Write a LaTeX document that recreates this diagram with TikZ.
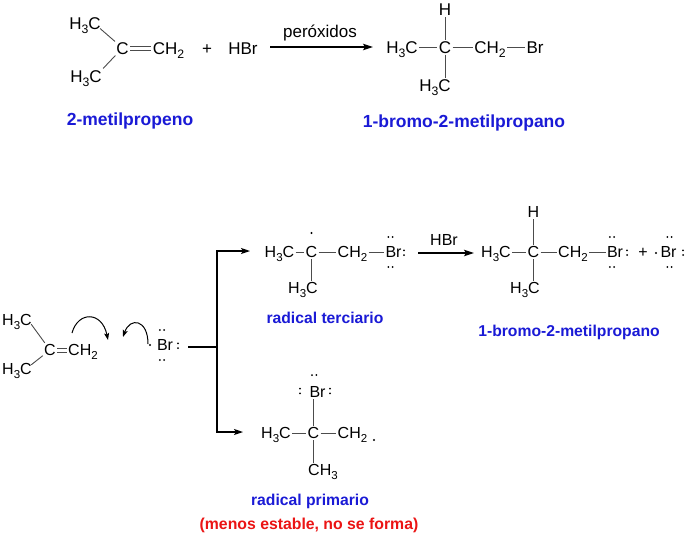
\documentclass[tikz,border=0pt]{standalone}
\usepackage{fontspec}
\setmainfont{Liberation Sans}
\usetikzlibrary{arrows.meta,calc}
\definecolor{lblue}{RGB}{26,26,214}
\definecolor{lred}{RGB}{235,20,20}
\newcommand\sbs[1]{\raisebox{-0.25em}{\scalebox{0.72}{#1}}}
\newcommand\lpH[3]{\fill ($(#1.center)+(#2-2.2,#3)$) circle (1pt) ($(#1.center)+(#2+2.2,#3)$) circle (1pt);}
\newcommand\lpV[3]{\fill ($(#1.center)+(#2,#3-2.3)$) circle (1pt) ($(#1.center)+(#2,#3+2.3)$) circle (1pt);}
\begin{document}
\begin{tikzpicture}[x=1pt,y=-1pt,
  atomT/.style={inner sep=1.2pt, text height=12.2pt, text depth=0pt, font=\fontsize{17}{20}\selectfont},
  atomB/.style={inner sep=1.2pt, text height=11.5pt, text depth=0pt, font=\fontsize{16}{19}\selectfont},
  bond/.style={draw=black!70, line width=0.9pt},
  rxn/.style={line width=1.2pt, -{Stealth[length=10pt,width=6.5pt,inset=2pt]}},
  lline/.style={line width=1.2pt},
  larr/.style={-{Stealth[length=9pt,width=6pt,inset=2pt]}},
  cur/.style={line width=1pt, -{Stealth[length=7pt,width=5pt,inset=1.5pt]}},
  lblT/.style={font=\fontsize{17.5}{20}\selectfont\bfseries, text=lblue},
  lblB/.style={font=\fontsize{15.7}{19}\selectfont\bfseries, text=lblue},
  lblR/.style={font=\fontsize{15.8}{19}\selectfont\bfseries, text=lred}]
\fill[white] (0,0) rectangle (688,539);
\useasboundingbox (0,0) rectangle (688,539);
% ---------- top reaction ----------
\node[atomT] (h1) at (85,23) {H\sbs{3}C};
\node[atomT] (h2) at (86,76) {H\sbs{3}C};
\node[atomT] (c1) at (122.5,48) {C};
\node[atomT] (ch1) at (168.5,48) {CH\sbs{2}};
\draw[bond] ([xshift=-2pt,yshift=2pt]h1.south east) -- (c1);
\draw[bond] (h2.north east) -- (c1);
\draw[bond] ([yshift=2pt]c1.east) -- ([yshift=2pt]ch1.west);
\draw[bond] ([yshift=-2pt]c1.east) -- ([yshift=-2pt]ch1.west);
\node[atomT] (plus1) at (207,48) {+};
\node[atomT] (hbr1) at (243,48) {HBr};
\coordinate (ar1s) at (270,47);
\coordinate (ar1e) at (373,47);
\draw[rxn] (ar1s) -- (ar1e);
\node[atomT] (perox) at (320,31) {peróxidos};
\node[atomT] (pH) at (445,9) {H};
\node[atomT] (pa) at (402,47) {H\sbs{3}C};
\node[atomT] (pc) at (445,47) {C};
\node[atomT] (pb) at (490,47) {CH\sbs{2}};
\node[atomT] (pbr) at (535,47) {Br};
\node[atomT] (pd) at (435,85) {H\sbs{3}C};
\draw[bond] (pa) -- (pc);
\draw[bond] (pc) -- (pb);
\draw[bond] (pb) -- (pbr);
\draw[bond] (pc) -- (pH);
\draw[bond] (pc.south) -- (pc.south |- pd.north);
\node[lblT] (lab1) at (130,121) {2-metilpropeno};
\node[lblT] (lab2) at (464,123) {1-bromo-2-metilpropano};
% ---------- mechanism ----------
\node[atomB] (a1) at (17,320) {H\sbs{3}C};
\node[atomB] (a2) at (17,369) {H\sbs{3}C};
\node[atomB] (ac) at (50,350) {C};
\node[atomB] (ach) at (83,350) {CH\sbs{2}};
\draw[bond] ([xshift=-2pt,yshift=3pt]a1.south east) -- (ac);
\draw[bond] ([xshift=-2pt,yshift=-3pt]a2.north east) -- (ac);
\draw[bond] ([yshift=2pt]ac.east) -- ([yshift=2pt]ach.west);
\draw[bond] ([yshift=-2pt]ac.east) -- ([yshift=-2pt]ach.west);
\coordinate (ca1s) at (72,333);
\coordinate (ca1e) at (108,340);
\draw[cur] (ca1s) .. controls (78,311) and (102,311) .. (ca1e);
\coordinate (ca2s) at (148,344);
\coordinate (ca2e) at (123,337);
\draw[cur] (ca2s) .. controls (148,319) and (130,317) .. (ca2e);
\node[atomB] (brr) at (165,345) {Br};
\fill (150,345) circle (1.2pt);
\lpH{brr}{-3}{-15}
\lpH{brr}{-3}{15}
\lpV{brr}{13}{0.7}
\coordinate (jl) at (188,347);
\coordinate (jv) at (217,347);
\coordinate (tt) at (250,251);
\coordinate (tb) at (243,432);
\draw[lline] (jl) -- (jv);
\draw[lline,larr] (jv) |- (tt);
\draw[lline,larr] (jv) |- (tb);
% tertiary radical
\node[atomB] (r1) at (279.5,252) {H\sbs{3}C};
\node[atomB] (r2) at (311.5,252) {C};
\node[atomB] (r3) at (352.5,252) {CH\sbs{2}};
\node[atomB] (r4) at (393.5,252) {Br};
\node[atomB] (r5) at (303,288) {H\sbs{3}C};
\draw[bond] (r1) -- (r2);
\draw[bond] (r2) -- (r3);
\draw[bond] (r3) -- (r4);
\draw[bond] (r2.south) -- (r2.south |- r5.north);
\fill (311.5,233) circle (1.2pt);
\lpH{r4}{-3}{-15}
\lpH{r4}{-3}{15}
\lpV{r4}{10.5}{0.7}
\node[lblB] (lab3) at (325,318) {radical terciario};
\coordinate (ar2s) at (418,253);
\coordinate (ar2e) at (474,253);
\draw[rxn] (ar2s) -- (ar2e);
\node[atomB] (hbr2) at (444,240) {HBr};
% product
\node[atomB] (q0) at (533.5,212) {H};
\node[atomB] (q1) at (496,252) {H\sbs{3}C};
\node[atomB] (q2) at (533.5,252) {C};
\node[atomB] (q3) at (573,252) {CH\sbs{2}};
\node[atomB] (q4) at (615,252) {Br};
\node[atomB] (q5) at (525,288) {H\sbs{3}C};
\draw[bond] (q1) -- (q2);
\draw[bond] (q2) -- (q3);
\draw[bond] (q3) -- (q4);
\draw[bond] (q2) -- (q0);
\draw[bond] (q2.south) -- (q2.south |- q5.north);
\lpH{q4}{-3}{-15}
\lpH{q4}{-3}{15}
\lpV{q4}{12}{0.7}
\node[atomB] (plus2) at (643,252) {+};
\node[atomB] (q6) at (668.5,252) {Br};
\fill (656,253) circle (1.2pt);
\lpH{q6}{1}{-15}
\lpH{q6}{1}{15}
\lpV{q6}{14.5}{0.7}
\node[lblB] (lab4) at (569,332) {1-bromo-2-metilpropano};
% primary radical
\node[atomB] (s0) at (317.5,391.5) {Br};
\node[atomB] (s1) at (276,433) {H\sbs{3}C};
\node[atomB] (s2) at (313.5,433) {C};
\node[atomB] (s3) at (352.5,433) {CH\sbs{2}};
\node[atomB] (s4) at (323,470) {CH\sbs{3}};
\draw[bond] (s1) -- (s2);
\draw[bond] (s2) -- (s3);
\draw[bond] (s2.north) -- (s2.north |- s0.south);
\draw[bond] (s2.south) -- (s2.south |- s4.north);
\fill (374,440) circle (1.2pt);
\lpH{s0}{-3.3}{-16.5}
\lpV{s0}{-17.5}{-0.5}
\lpV{s0}{12.5}{-0.5}
\node[lblB] (lab5) at (310,501) {radical primario};
\node[lblR] (lab6) at (309,525) {(menos estable, no se forma)};
\end{tikzpicture}
\end{document}
